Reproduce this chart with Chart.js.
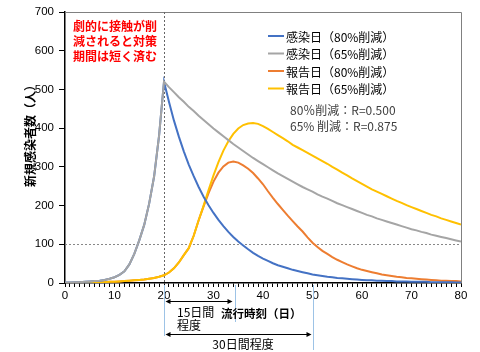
<!DOCTYPE html>
<html><head><meta charset="utf-8">
<script src="https://cdn.jsdelivr.net/npm/chart.js@4.4.1/dist/chart.umd.min.js"></script>
<style>html,body{margin:0;padding:0;background:#fff}#wrap{width:480px;height:352px;position:relative}</style>
</head><body><div id="wrap"><canvas id="c" width="480" height="352"></canvas></div>
<script>
// x categories: day 0..80
const days = [0,1,2,3,4,5,6,7,8,9,10,11,12,13,14,15,16,17,18,19,20,
  21,22,23,24,25,26,27,28,29,30,31,32,33,34,35,36,37,38,39,40,
  41,42,43,44,45,46,47,48,49,50,51,52,53,54,55,56,57,58,59,60,
  61,62,63,64,65,66,67,68,69,70,71,72,73,74,75,76,77,78,79,80];

// 感染日（80%削減）
const infected80 = [1,1,2,2,3,4,5,6,8,11,15,21,30,48,75,110,150,205,275,380,520,
  468,420,378,340,306,276,248,223,201,181,163,147,132,119,107,97,87,78,70,63,
  57,51,46,42,38,34,31,28,25,22,20,18,16,15,13,12,11,10,9,8,
  7,7,6,6,5,5,4,4,4,3,3,3,3,2,2,2,2,2,1,1];
// 感染日（65%削減）
const infected65 = [1,1,2,2,3,4,5,6,8,11,15,21,30,48,75,110,150,205,275,380,520,
  506,493,480,468,455,444,432,421,410,399,389,379,369,359,350,341,332,323,315,307,
  299,291,283,276,269,262,255,248,242,236,229,223,218,212,206,201,196,191,186,181,
  176,172,167,163,159,155,151,147,143,139,136,132,129,125,122,119,116,113,110,107];
// 報告日（80%削減）
const reported80 = [0,0,0,1,1,1,1,2,2,3,3,4,5,6,7,8,9,11,13,16,20,
  27,38,53,72,90,122,162,198,232,262,285,301,311,314,311,304,295,284,270,255,
  237,220,204,189,174,160,146,133,118,104,93,83,75,67,60,54,48,43,38,34,
  31,28,25,22,20,18,16,15,13,12,11,10,9,8,7,6,6,5,5,4];
// 報告日（65%削減）
const reported65 = [0,0,0,1,1,1,1,2,2,3,3,4,5,6,7,8,9,11,13,16,20,
  27,38,53,72,90,122,162,200,240,278,312,342,366,385,399,408,412,413,411,405,
  398,390,382,374,366,357,350,343,336,329,322,315,308,300,293,285,278,270,263,256,
  249,242,236,230,224,218,212,207,201,196,191,186,181,176,172,167,163,159,155,151];

const seriesNames = ['感染日（80%削減）','感染日（65%削減）','報告日（80%削減）','報告日（65%削減）'];
const seriesColors = ['#4472C4','#A5A5A5','#ED7D31','#FFC000'];
const seriesValues = [infected80, infected65, reported80, reported65];
const seriesOrder = [2,1,4,3];
const yTicks = [0,100,200,300,400,500,600,700];
const xTickLabels = [0,10,20,30,40,50,60,70,80];
const rNotes = ['80％削減：R=0.500','65% 削減：R=0.875'];
const redNote = ['劇的に接触が削','減されると対策','期間は短く済む'];
const yTitle = '新規感染者数（人）';
const xTitle = '流行時刻（日）';
const peakDay = 20, refLevel = 100;
const span15End = 34.4, span30End = 50;

const CJK = "'Noto Sans CJK JP', 'Liberation Sans', sans-serif";

const overlay = {
  id: 'overlay',
  beforeDatasetsDraw(chart) {
    const {ctx, chartArea: a, scales: {x, y}} = chart;
    ctx.save();
    // box top/right
    ctx.strokeStyle = '#808080'; ctx.lineWidth = 1;
    ctx.beginPath();
    ctx.moveTo(a.left, a.top + 0.5); ctx.lineTo(a.right + 0.5, a.top + 0.5); ctx.lineTo(a.right + 0.5, a.bottom);
    ctx.stroke();
    // dotted references
    ctx.setLineDash([2, 2]);
    ctx.strokeStyle = '#666';
    const px = Math.round(x.getPixelForValue(peakDay)) + 0.5;
    ctx.beginPath(); ctx.moveTo(px, a.top); ctx.lineTo(px, a.bottom); ctx.stroke();
    const py = Math.round(y.getPixelForValue(refLevel)) + 0.5;
    ctx.strokeStyle = '#888';
    ctx.beginPath(); ctx.moveTo(a.left, py); ctx.lineTo(a.right, py); ctx.stroke();
    ctx.restore();
  },
  afterDraw(chart) {
    const {ctx, chartArea: a, scales: {x, y}} = chart;
    ctx.save();
    // legend
    ctx.font = '12px ' + CJK;
    ctx.textBaseline = 'middle';
    ctx.textAlign = 'left';
    const legY = [36, 53.5, 71, 88.5];
    seriesNames.forEach((n, i) => {
      ctx.strokeStyle = seriesColors[i]; ctx.lineWidth = 2;
      ctx.beginPath(); ctx.moveTo(268, legY[i]); ctx.lineTo(284, legY[i]); ctx.stroke();
      ctx.fillStyle = '#000';
      ctx.fillText(n, 286, legY[i] + 1);
    });
    ctx.fillStyle = '#404040';
    ctx.fillText(rNotes[0], 290, 110);
    ctx.fillText(rNotes[1], 290, 126);
    // red annotation
    ctx.font = 'bold 12px ' + CJK;
    ctx.fillStyle = '#FF0000';
    redNote.forEach((t, i) => ctx.fillText(t, 73, 26 + i * 15));
    // y title
    ctx.save();
    ctx.translate(30.5, 133);
    ctx.rotate(-Math.PI / 2);
    ctx.textAlign = 'center';
    ctx.fillStyle = '#000';
    ctx.font = 'bold 12px ' + CJK;
    ctx.fillText(yTitle, 0, 0);
    ctx.restore();
    // light blue guide lines
    const x20 = Math.round(x.getPixelForValue(peakDay)) + 0.5;
    const x35 = Math.round(x.getPixelForValue(span15End)) + 0.5;
    const x50 = Math.round(x.getPixelForValue(span30End)) + 0.5;
    ctx.strokeStyle = '#9DC3E6'; ctx.lineWidth = 1;
    ctx.beginPath();
    ctx.moveTo(x20, a.bottom + 2); ctx.lineTo(x20, 336);
    ctx.moveTo(x35, a.bottom + 2); ctx.lineTo(x35, 322);
    ctx.moveTo(x50, a.bottom + 2); ctx.lineTo(x50, 350);
    ctx.stroke();
    // arrows
    const arrow = (x1, x2, yy) => {
      ctx.strokeStyle = '#000'; ctx.fillStyle = '#000'; ctx.lineWidth = 1;
      ctx.beginPath(); ctx.moveTo(x1 + 3, yy); ctx.lineTo(x2 - 3, yy); ctx.stroke();
      ctx.beginPath(); ctx.moveTo(x1, yy); ctx.lineTo(x1 + 5, yy - 2.5); ctx.lineTo(x1 + 5, yy + 2.5); ctx.closePath(); ctx.fill();
      ctx.beginPath(); ctx.moveTo(x2, yy); ctx.lineTo(x2 - 5, yy - 2.5); ctx.lineTo(x2 - 5, yy + 2.5); ctx.closePath(); ctx.fill();
    };
    arrow(x20 + 1, x35 - 3, 301.5);
    arrow(x20 + 1, x50 - 2, 334.5);
    ctx.fillStyle = '#000';
    ctx.font = '12px ' + CJK;
    ctx.textAlign = 'left';
    ctx.fillText('15日間', 177, 312);
    ctx.fillText('程度', 177, 325);
    ctx.textAlign = 'center';
    ctx.fillText('30日間程度', 243, 344);
    ctx.font = 'bold 11.5px ' + CJK;
    ctx.textAlign = 'left';
    ctx.fillText(xTitle, 221, 314);
    ctx.restore();
  }
};

new Chart(document.getElementById('c'), {
  type: 'line',
  data: {
    datasets: seriesNames.map((n, i) => ({
      label: n,
      data: days.map((d, k) => ({x: d, y: seriesValues[i][k]})),
      borderColor: seriesColors[i],
      backgroundColor: seriesColors[i],
      borderWidth: 2,
      pointRadius: 0,
      tension: 0,
      fill: false,
      order: seriesOrder[i]
    }))
  },
  options: {
    responsive: false,
    animation: false,
    devicePixelRatio: 1,
    layout: {padding: {top: 12, right: 19, left: 0, bottom: 0}},
    plugins: {legend: {display: false}, tooltip: {enabled: false}},
    scales: {
      x: {
        type: 'linear', min: 0, max: 80,
        afterFit: s => { s.height = 69; },
        border: {display: true, color: '#000', width: 1.5},
        grid: {drawOnChartArea: false, drawTicks: true, tickLength: 4, color: '#000'},
        ticks: {
          stepSize: 1, autoSkip: false, maxRotation: 0, padding: 2,
          color: '#000', font: {family: "'Liberation Sans', Arial", size: 11.5},
          callback: v => xTickLabels.includes(v) ? String(v) : ''
        }
      },
      y: {
        min: 0, max: 700,
        afterFit: s => { s.width = 65; },
        border: {display: true, color: '#000', width: 1.5},
        grid: {drawOnChartArea: false, drawTicks: true, tickLength: 6, color: '#000'},
        ticks: {
          stepSize: 100, padding: 5, color: '#000',
          font: {family: "'Liberation Sans', Arial", size: 11.5},
          callback: v => yTicks.includes(v) ? String(v) : ''
        }
      }
    }
  },
  plugins: [overlay]
});
</script>
</body></html>
